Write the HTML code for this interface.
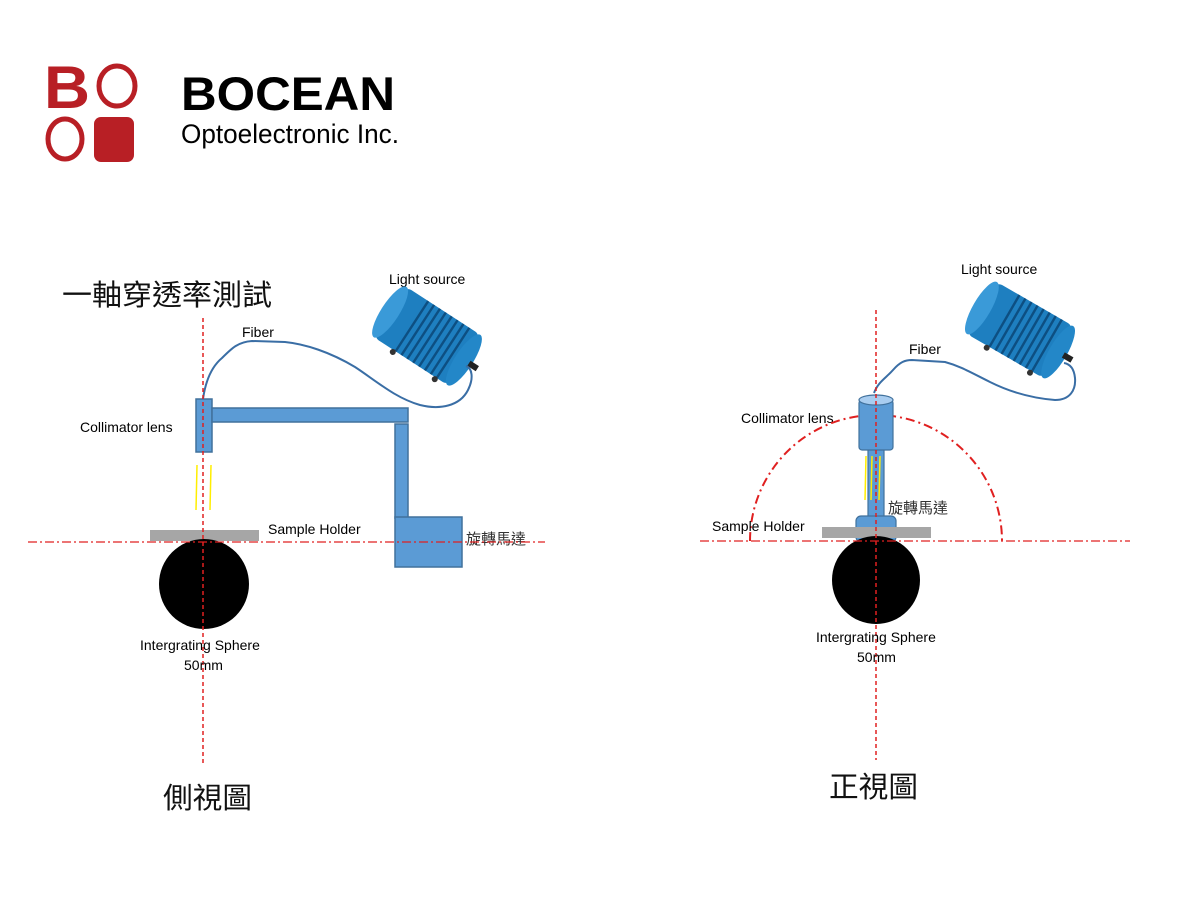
<!DOCTYPE html>
<html><head><meta charset="utf-8"><style>
body{margin:0;background:#fff}
svg text{font-family:"Liberation Sans","Noto Sans CJK TC",sans-serif}
</style></head><body>
<svg width="1200" height="900" viewBox="0 0 1200 900" xmlns="http://www.w3.org/2000/svg">
<defs>
<g id="ls">
 <rect x="-44" y="-30" width="88" height="60" rx="6" fill="#1e7fc0"/>
 <g stroke="#0d4f82" stroke-width="2.4">
  <line x1="-18" y1="-30" x2="-18" y2="30"/><line x1="-11" y1="-30" x2="-11" y2="30"/><line x1="-4" y1="-30" x2="-4" y2="30"/><line x1="3" y1="-30" x2="3" y2="30"/><line x1="10" y1="-30" x2="10" y2="30"/><line x1="17" y1="-30" x2="17" y2="30"/><line x1="24" y1="-30" x2="24" y2="30"/><line x1="31" y1="-30" x2="31" y2="30"/>
 </g>
 <ellipse cx="-44" cy="0" rx="9" ry="30" fill="#3a9ad8"/>
 <ellipse cx="44" cy="0" rx="9" ry="30" fill="#2387c8"/>
 <rect x="50" y="-3" width="10" height="6" fill="#222"/>
 <circle cx="-20" cy="32" r="3" fill="#333"/><circle cx="30" cy="32" r="3" fill="#333"/>
</g>
</defs>

<!-- Logo -->
<text x="44" y="108" font-size="60" font-weight="bold" fill="#b81f25" textLength="46" lengthAdjust="spacingAndGlyphs">B</text>
<ellipse cx="117" cy="86" rx="18" ry="20" fill="none" stroke="#b81f25" stroke-width="5"/>
<ellipse cx="65" cy="139" rx="17" ry="20" fill="none" stroke="#b81f25" stroke-width="5"/>
<rect x="94" y="117" width="40" height="45" rx="7" fill="#b81f25"/>
<text x="181" y="110" font-size="47" font-weight="bold" fill="#000" textLength="214" lengthAdjust="spacingAndGlyphs">BOCEAN</text>
<text x="181" y="143" font-size="27" fill="#000" textLength="218" lengthAdjust="spacingAndGlyphs">Optoelectronic Inc.</text>

<!-- LEFT -->
<text x="62" y="305" font-size="29" fill="#111" textLength="210" lengthAdjust="spacingAndGlyphs">一軸穿透率測試</text>
<text x="389" y="284" font-size="14">Light source</text>
<use href="#ls" transform="translate(427,336) rotate(33)"/>
<text x="242" y="337" font-size="14">Fiber</text>
<path d="M203,399 C205,385 210,368 222,358 C232,348 238,342 252,341 L285,342 C305,344 330,352 355,367 C375,380 395,398 420,405 C440,410 460,406 468,390 C474,378 472,368 466,366" fill="none" stroke="#3a6ea5" stroke-width="2"/>
<text x="80" y="432" font-size="14">Collimator lens</text>
<rect x="196" y="399" width="16" height="53" fill="#5b9bd5" stroke="#41719c" stroke-width="1.5"/>
<rect x="212" y="408" width="196" height="14" fill="#5b9bd5" stroke="#41719c" stroke-width="1.5"/>
<rect x="395" y="424" width="13" height="94" fill="#5b9bd5" stroke="#41719c" stroke-width="1.5"/>
<rect x="395" y="517" width="67" height="50" fill="#5b9bd5" stroke="#41719c" stroke-width="1.5"/>
<line x1="197" y1="465" x2="196" y2="510" stroke="#ffee00" stroke-width="1.5"/>
<line x1="211" y1="465" x2="210" y2="510" stroke="#ffee00" stroke-width="1.5"/>
<rect x="150" y="530" width="109" height="11" fill="#a6a6a6"/>
<text x="268" y="534" font-size="14">Sample Holder</text>
<text x="466" y="544" font-size="15" fill="#333">旋轉馬達</text>
<circle cx="204" cy="584" r="45" fill="#000"/>
<line x1="28" y1="542" x2="545" y2="542" stroke="#e02020" stroke-width="1.2" stroke-dasharray="9,3,2,3"/>
<line x1="203" y1="318" x2="203" y2="765" stroke="#e02020" stroke-width="1.5" stroke-dasharray="4,3"/>
<text x="140" y="650" font-size="14">Intergrating Sphere</text>
<text x="184" y="670" font-size="14">50mm</text>
<text x="163" y="808" font-size="29" fill="#111" textLength="89" lengthAdjust="spacingAndGlyphs">側視圖</text>

<!-- RIGHT -->
<text x="961" y="274" font-size="14">Light source</text>
<use href="#ls" transform="translate(1020,330) rotate(30)"/>
<text x="909" y="354" font-size="14">Fiber</text>
<path d="M874,393 C878,382 886,378 893,370 C900,362 905,360 912,360 L945,362 C960,366 970,372 990,382 C1010,392 1030,398 1055,400 C1070,400 1076,390 1075,378 C1074,368 1070,364 1064,363" fill="none" stroke="#3a6ea5" stroke-width="2"/>
<text x="741" y="423" font-size="14">Collimator lens</text>
<path d="M750,541 A126,126 0 0 1 1002,541" fill="none" stroke="#e02020" stroke-width="2" stroke-dasharray="9,4,2,4"/>
<rect x="868" y="448" width="16" height="72" fill="#5b9bd5" stroke="#41719c" stroke-width="1.2"/>
<rect x="859" y="400" width="34" height="50" rx="3" fill="#5b9bd5" stroke="#41719c" stroke-width="1.2"/>
<ellipse cx="876" cy="400" rx="17" ry="5" fill="#a9cdf0" stroke="#41719c" stroke-width="1.2"/>
<line x1="866" y1="456" x2="865" y2="500" stroke="#ffee00" stroke-width="1.5"/>
<line x1="872" y1="456" x2="871" y2="500" stroke="#ffee00" stroke-width="1.5"/>
<line x1="880" y1="456" x2="879" y2="500" stroke="#ffee00" stroke-width="1.5"/>
<rect x="856" y="516" width="40" height="26" rx="5" fill="#5b9bd5" stroke="#41719c" stroke-width="1.2"/>
<rect x="822" y="527" width="109" height="11" fill="#a6a6a6"/>
<text x="712" y="531" font-size="14">Sample Holder</text>
<text x="888" y="513" font-size="15" fill="#333">旋轉馬達</text>
<circle cx="876" cy="580" r="44" fill="#000"/>
<line x1="700" y1="541" x2="1130" y2="541" stroke="#e02020" stroke-width="1.2" stroke-dasharray="9,3,2,3"/>
<line x1="876" y1="310" x2="876" y2="760" stroke="#e02020" stroke-width="1.5" stroke-dasharray="4,3"/>
<text x="816" y="642" font-size="14">Intergrating Sphere</text>
<text x="857" y="662" font-size="14">50mm</text>
<text x="829" y="797" font-size="29" fill="#111" textLength="89" lengthAdjust="spacingAndGlyphs">正視圖</text>
</svg>
</body></html>
